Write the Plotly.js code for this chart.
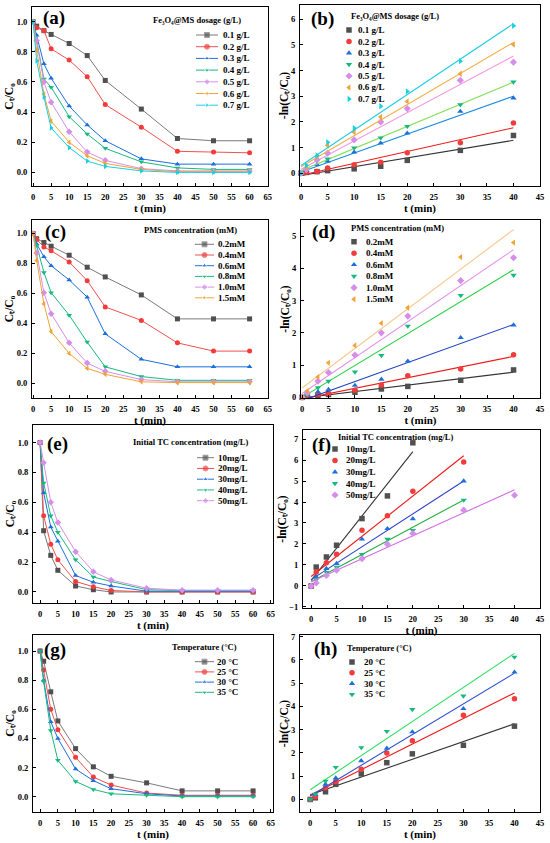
<!DOCTYPE html>
<html><head><meta charset="utf-8">
<script src="https://cdn.plot.ly/plotly-3.0.1.min.js"></script>
<style>html,body{margin:0;padding:0;background:#fff}#chart{width:550px;height:843px}</style>
</head><body><div id="chart"></div>
<script>
// ================= DATA =================
// (a) Ct/C0 vs time, Fe3O4@MS dosage
const tA = [0,1,3,5,10,15,20,30,40,50,60];
const aNames = ['0.1 g/L','0.2 g/L','0.3 g/L','0.4 g/L','0.5 g/L','0.6 g/L','0.7 g/L'];
const a_01 = [1.00,0.97,0.94,0.915,0.855,0.775,0.61,0.42,0.225,0.21,0.21];
const a_02 = [1.00,0.96,0.94,0.82,0.745,0.635,0.45,0.30,0.14,0.135,0.13];
const a_03 = [1.00,0.91,0.72,0.625,0.44,0.315,0.21,0.09,0.055,0.055,0.055];
const a_04 = [1.00,0.87,0.62,0.565,0.37,0.255,0.16,0.07,0.03,0.02,0.02];
const a_05 = [1.00,0.875,0.60,0.465,0.27,0.135,0.08,0.025,0.01,0.01,0.01];
const a_06 = [1.00,0.81,0.52,0.34,0.20,0.11,0.06,0.02,0.005,0.005,0.005];
const a_07 = [1.00,0.74,0.50,0.295,0.165,0.075,0.04,0.01,0.0,0.0,0.0];

// (b) -ln(Ct/C0), dosage
const tB = [0,1,3,5,10,15,20,30,40];
const b_01 = [0,0.03,0.06,0.10,0.17,0.27,0.50,0.89,1.47];
const b_02 = [0,0.05,0.07,0.20,0.33,0.43,0.80,1.19,1.96];
const b_03 = [0,0.10,0.33,0.47,0.82,1.17,1.56,2.41,2.93];
const b_04 = [0,0.13,0.50,0.56,0.99,1.38,1.83,2.67,3.56];
const b_05 = [0,0.14,0.52,0.78,1.30,2.00,2.52,3.62,4.33];
const b_06 = [0,0.22,0.65,1.08,1.60,2.19,2.80,3.88,5.02];
const b_07 = [0,0.30,0.69,1.21,1.76,2.61,3.19,4.37,5.75];
const bSlope = [0.0343,0.0463,0.0738,0.0863,0.1105,0.1213,0.1383];
const bIntercept = [-0.09,-0.08,0.05,0.10,0.15,0.25,0.30];
const bFitEnd = [40,40,40,40,40,40,40];

// (c) Ct/C0, PMS concentration
const tC = [0,1,3,5,10,15,20,30,40,50,60];
const cNames = ['0.2mM','0.4mM','0.6mM','0.8mM','1.0mM','1.5mM'];
const c_02 = [1.00,0.965,0.94,0.915,0.855,0.775,0.71,0.59,0.43,0.43,0.43];
const c_04 = [1.00,0.96,0.91,0.885,0.81,0.685,0.51,0.42,0.27,0.215,0.215];
const c_06 = [1.00,0.93,0.845,0.785,0.69,0.575,0.33,0.16,0.11,0.11,0.11];
const c_08 = [1.00,0.92,0.74,0.605,0.455,0.275,0.11,0.045,0.02,0.02,0.02];
const c_10 = [1.00,0.87,0.605,0.465,0.27,0.135,0.08,0.025,0.01,0.01,0.01];
const c_15 = [1.00,0.82,0.53,0.345,0.20,0.10,0.06,0.01,0.005,0.005,0.005];

// (d) -ln(Ct/C0), PMS concentration
const tD = [0,1,3,5,10,15,20,30,40];
const d_02 = [0,0.03,0.06,0.09,0.16,0.26,0.34,0.53,0.85];
const d_04 = [0,0.04,0.09,0.12,0.22,0.38,0.67,0.88,1.32];
const d_06 = [0,0.07,0.17,0.24,0.37,0.56,1.12,1.85,2.24];
const d_08 = [0,0.08,0.30,0.50,0.79,1.30,2.21,3.16,3.79];
const d_10 = [0,0.14,0.50,0.77,1.31,2.00,2.52,3.62,4.33];
const d_15 = [0,0.20,0.63,1.07,1.61,2.30,2.78,4.35,4.80];
const dSlope = [0.020,0.033,0.059,0.099,0.1115,0.1228];
const dIntercept = [-0.02,-0.05,-0.10,0.00,0.12,0.29];
const dFitEnd = [40,40,40,40,40,40];

// (e) Ct/C0, initial TC concentration
const tE = [0,1,3,5,10,15,20,30,40,50,60];
const eNames = ['10mg/L','20mg/L','30mg/L','40mg/L','50mg/L'];
const e_10 = [1.00,0.41,0.245,0.145,0.04,0.015,0.0,0.0,0.0,0.0,0.0];
const e_20 = [1.00,0.51,0.32,0.215,0.07,0.035,0.01,0.0,0.0,0.0,0.0];
const e_30 = [1.00,0.665,0.435,0.34,0.11,0.065,0.04,0.005,0.005,0.005,0.005];
const e_40 = [1.00,0.73,0.51,0.40,0.215,0.10,0.07,0.015,0.01,0.01,0.01];
const e_50 = [1.00,0.865,0.60,0.465,0.27,0.135,0.08,0.025,0.012,0.012,0.012];

// (f) -ln(Ct/C0), initial TC concentration
const tF10 = [0,1,3,5,10,15,20];
const tF30 = [0,1,3,5,10,15,20,30];
const tF40 = [0,1,3,5,10,15,20,30,40];
const f_10 = [0,0.90,1.38,1.94,3.21,4.29,6.82];
const f_20 = [0,0.67,1.11,1.51,2.65,3.34,4.51,5.91];
const f_30 = [0,0.43,0.83,1.07,2.23,2.73,3.20,5.00];
const f_40 = [0,0.30,0.65,0.90,1.50,2.23,2.65,4.09];
const f_50 = [0,0.14,0.50,0.75,1.30,1.99,2.50,3.61,4.32];
const fSlope = [0.3065,0.1917,0.1567,0.1300,0.1095];
const fIntercept = [0.27,0.45,0.30,0.20,0.20];
const fFitEnd = [20,30,30,30,40];

// (g) Ct/C0, temperature
const tG = [0,1,3,5,10,15,20,30,40,50,60];
const gNames = ['20 °C','25 °C','30 °C','35 °C'];
const g_20 = [1.00,0.93,0.72,0.52,0.33,0.205,0.14,0.095,0.04,0.04,0.04];
const g_25 = [1.00,0.87,0.60,0.46,0.27,0.135,0.08,0.025,0.01,0.01,0.01];
const g_30 = [1.00,0.80,0.515,0.40,0.19,0.11,0.055,0.02,0.005,0.005,0.005];
const g_35 = [1.00,0.79,0.455,0.25,0.105,0.05,0.02,0.01,0.0,0.0,0.0];

// (h) -ln(Ct/C0), temperature
const tH = [0,1,3,5,10,15,20,30,40];
const h_20 = [0,0.07,0.33,0.65,1.10,1.58,1.96,2.33,3.15];
const h_25 = [0,0.12,0.50,0.77,1.30,2.00,2.52,3.62,4.33];
const h_30 = [0,0.22,0.65,0.92,1.66,2.20,2.90,3.90,5.47];
const h_35 = [0,0.23,0.79,1.38,2.23,2.93,3.87,4.45,6.12];
const hSlope = [0.0763,0.1100,0.1320,0.1465];
const hIntercept = [0.20,0.18,0.15,0.42];
const hFitEnd = [40,40,40,40];

// Titles
const titleCt = 'C\u209C/C\u2080';
const titleLn = '-ln(C\u209C/C\u2080)';
const titleDose = 'Fe\u2083O\u2084@MS dosage (g/L)';
const titlePMS = 'PMS concentration (mM)';
const titleTC = 'Initial TC concentration (mg/L)';
const titleTemp = 'Temperature (°C)';

// ================= STYLE =================
const W = 550, H = 843;
const FONT = 'Liberation Serif, Times New Roman, serif';
const markColors = ['#505050','#f23c3c','#1c6fdc','#17b97c','#d58fea','#f0a436','#18cfe3'];
const curveLineColors = ['#7a7a7a','#f25050','#1c6fdc','#17b97c','#d58fea','#f0a436','#18cfe3'];
const symbols = ['square','circle','triangle-up','triangle-down','diamond','triangle-left','triangle-right'];
const bLineColors = ['#333333','#f01818','#1a8ee0','#88e060','#f29ae0','#f5ae4a','#22cde3'];
const dLineColors = ['#333333','#f01818','#2040c0','#20d040','#e497ea','#f8c890'];
const fLineColors = ['#333333','#f01818','#3040c8','#20b040','#d070e0'];
const hLineColors = ['#333333','#f01818','#3050d0','#30e060'];

const panels = [
  {key:'a', box:[32,7,268,186], xr:[-0.3,65.1], xdt:5, yr:[-0.09,1.097], ydt:0.2, yfmt:'.1f',
   ytitle:titleCt, kind:'curve', ts:[tA,tA,tA,tA,tA,tA,tA],
   ys:[a_01,a_02,a_03,a_04,a_05,a_06,a_07], names:aNames,
   lab:[54,18], ltitle:titleDose, lt:[197,20],
   leg:{x0:196,len:22,tx:221,y0:35,dy:11.7}},
  {key:'b', box:[300,5,540,186], xr:[-0.2,45], xdt:5, yr:[-0.5,6.56], ydt:1, yfmt:'d',
   ytitle:titleLn, kind:'fit', ts:[tB,tB,tB,tB,tB,tB,tB],
   ys:[b_01,b_02,b_03,b_04,b_05,b_06,b_07], names:aNames,
   slope:bSlope, icpt:bIntercept, fend:bFitEnd, lcol:bLineColors,
   lab:[322,19], ltitle:titleDose, lt:[395,16],
   leg:{x0:349,tx:356,y0:30,dy:11.5}},
  {key:'c', box:[32,220,268,398], xr:[-0.3,65.1], xdt:5, yr:[-0.098,1.09], ydt:0.2, yfmt:'.1f',
   ytitle:titleCt, kind:'curve', ts:[tC,tC,tC,tC,tC,tC],
   ys:[c_02,c_04,c_06,c_08,c_10,c_15], names:cNames,
   lab:[55,232], ltitle:titlePMS, lt:[190,230],
   leg:{x0:195,len:19,tx:216,y0:244.3,dy:10.7}},
  {key:'d', box:[301,220,540,398], xr:[-0.2,45], xdt:5, yr:[-0.02,5.5], ydt:1, yfmt:'d',
   ytitle:titleLn, kind:'fit', ts:[tD,tD,tD,tD,tD,tD],
   ys:[d_02,d_04,d_06,d_08,d_10,d_15], names:cNames,
   slope:dSlope, icpt:dIntercept, fend:dFitEnd, lcol:dLineColors,
   lab:[323,232], ltitle:titlePMS, lt:[397,228],
   leg:{x0:354,tx:364,y0:241.7,dy:11.5}},
  {key:'e', box:[33,425,273,603], xr:[-2,65.6], xdt:5, yr:[-0.074,1.118], ydt:0.2, yfmt:'.1f',
   ytitle:titleCt, kind:'curve', ts:[tE,tE,tE,tE,tE],
   ys:[e_10,e_20,e_30,e_40,e_50], names:eNames,
   lab:[57,444], ltitle:titleTC, lt:[190,442],
   leg:{x0:197,len:17,tx:216,y0:457.7,dy:10.75}},
  {key:'f', box:[303,430,540,608], xr:[-1.6,45], xdt:5, yr:[-1.05,7.43], ydt:1, yfmt:'d',
   ytitle:titleLn, kind:'fit', ts:[tF10,tF30,tF30,tF30,tF40],
   ys:[f_10,f_20,f_30,f_40,f_50], names:eNames,
   slope:fSlope, icpt:fIntercept, fend:fFitEnd, lcol:fLineColors,
   lab:[321,445], ltitle:titleTC, lt:[395,437],
   leg:{x0:335,tx:344,y0:449,dy:11.5}},
  {key:'g', box:[33,635,273,812], xr:[-2,65.6], xdt:5, yr:[-0.105,1.11], ydt:0.2, yfmt:'.1f',
   ytitle:titleCt, kind:'curve', ts:[tG,tG,tG,tG],
   ys:[g_20,g_25,g_30,g_35], names:gNames,
   lab:[55,650], ltitle:titleTemp, lt:[204,647],
   leg:{x0:195,len:19,tx:215,y0:661.7,dy:10.2}},
  {key:'h', box:[300,635,540,812], xr:[-2,45], xdt:5, yr:[-0.54,7.07], ydt:1, yfmt:'d',
   ytitle:titleLn, kind:'fit', ts:[tH,tH,tH,tH],
   ys:[h_20,h_25,h_30,h_35], names:gNames,
   slope:hSlope, icpt:hIntercept, fend:hFitEnd, lcol:hLineColors,
   lab:[325,649], ltitle:titleTemp, lt:[379,648],
   leg:{x0:352,tx:362,y0:662,dy:10.8}}
];

const traces = [];
const annotations = [];
const layout = {
  width: W, height: H, margin:{l:0,r:0,t:0,b:0,pad:0},
  paper_bgcolor:'#ffffff', plot_bgcolor:'rgba(0,0,0,0)',
  showlegend:false, font:{family:FONT, size:9, color:'#000', weight:'bold'},
  annotations: annotations
};

const px = v => v / W;
const py = v => 1 - v / H;

panels.forEach((p, i) => {
  const n = i + 1;
  const xa = 'xaxis' + (n === 1 ? '' : n), ya = 'yaxis' + (n === 1 ? '' : n);
  const xr = 'x' + (n === 1 ? '' : n), yr = 'y' + (n === 1 ? '' : n);
  const [l, t, r, b] = p.box;
  const axBase = {
    showline:true, linecolor:'#000', linewidth:1, mirror:true,
    ticks:'inside', ticklen:3, tickwidth:1, tickcolor:'#000', ticklabelstandoff:3,
    showgrid:false, zeroline:false, fixedrange:true, automargin:false,
    tickfont:{family:FONT, size:8.5, color:'#000', weight:'bold'}
  };
  layout[xa] = Object.assign({}, axBase, {
    domain:[px(l), px(r)], range:p.xr, dtick:p.xdt, tick0:0, anchor:yr,
    title:{text:'t (min)', font:{family:FONT, size:11, color:'#000', weight:'bold'}, standoff:1}
  });
  layout[ya] = Object.assign({}, axBase, {
    domain:[py(b), py(t)], range:p.yr, dtick:p.ydt, tick0:0, anchor:xr,
    tickformat:p.yfmt, ticklabelstandoff:2,
    title:{text:p.ytitle, font:{family:FONT, size:11.5, color:'#000', weight:'bold'}, standoff:0}
  });

  p.ys.forEach((ys, k) => {
    const col = markColors[k];
    if (p.kind === 'curve') {
      traces.push({
        type:'scatter', mode:'lines+markers', x:p.ts[k], y:ys, xaxis:xr, yaxis:yr,
        line:{color:curveLineColors[k], width:1}, marker:{symbol:symbols[k], color:col, size:5},
        cliponaxis:true, name:p.names[k]
      });
    } else {
      const tEnd = p.fend[k];
      traces.push({
        type:'scatter', mode:'lines', x:[0, tEnd],
        y:[p.icpt[k], p.icpt[k] + p.slope[k] * tEnd], xaxis:xr, yaxis:yr,
        line:{color:p.lcol[k], width:1.1}, name:p.names[k] + ' fit'
      });
      traces.push({
        type:'scatter', mode:'markers', x:p.ts[k], y:ys, xaxis:xr, yaxis:yr,
        marker:{symbol:symbols[k], color:col, size:5.5}, cliponaxis:false, name:p.names[k]
      });
    }
    // legend row (drawn on the full-page overlay axis, in pixel units)
    const L = p.leg, yy = L.y0 + k * L.dy;
    if (p.kind === 'curve') {
      traces.push({
        type:'scatter', mode:'lines+markers', xaxis:'x9', yaxis:'y9',
        x:[L.x0, L.x0 + L.len / 2, L.x0 + L.len], y:[yy, yy, yy],
        line:{color:curveLineColors[k], width:1}, marker:{symbol:symbols[k], color:col, size:[0,5,0]},
        hoverinfo:'skip'
      });
    } else {
      traces.push({
        type:'scatter', mode:'markers', xaxis:'x9', yaxis:'y9',
        x:[L.x0], y:[yy], marker:{symbol:symbols[k], color:col, size:5.5}, hoverinfo:'skip'
      });
    }
    annotations.push({
      xref:'paper', yref:'paper', x:px(L.tx), y:py(yy), xanchor:'left', yanchor:'middle',
      text:p.names[k], showarrow:false,
      font:{family:FONT, size:9, color:'#000', weight:'bold'}
    });
  });

  // legend title
  annotations.push({
    xref:'paper', yref:'paper', x:px(p.lt[0]), y:py(p.lt[1]), xanchor:'center', yanchor:'middle',
    text:p.ltitle, showarrow:false,
    font:{family:FONT, size:8.5, color:'#000', weight:'bold'}
  });
  // panel label
  annotations.push({
    xref:'paper', yref:'paper', x:px(p.lab[0]), y:py(p.lab[1]), xanchor:'center', yanchor:'middle',
    text:'(' + p.key + ')', showarrow:false,
    font:{family:FONT, size:19, color:'#000', weight:'bold'}
  });
});

// full-page overlay axes in pixel units for the legend samples
layout.xaxis9 = {domain:[0,1], range:[0,W], visible:false, fixedrange:true, anchor:'y9'};
layout.yaxis9 = {domain:[0,1], range:[H,0], visible:false, fixedrange:true, anchor:'x9'};

Plotly.newPlot('chart', traces, layout, {staticPlot:true, displayModeBar:false});
</script>
</body></html>
